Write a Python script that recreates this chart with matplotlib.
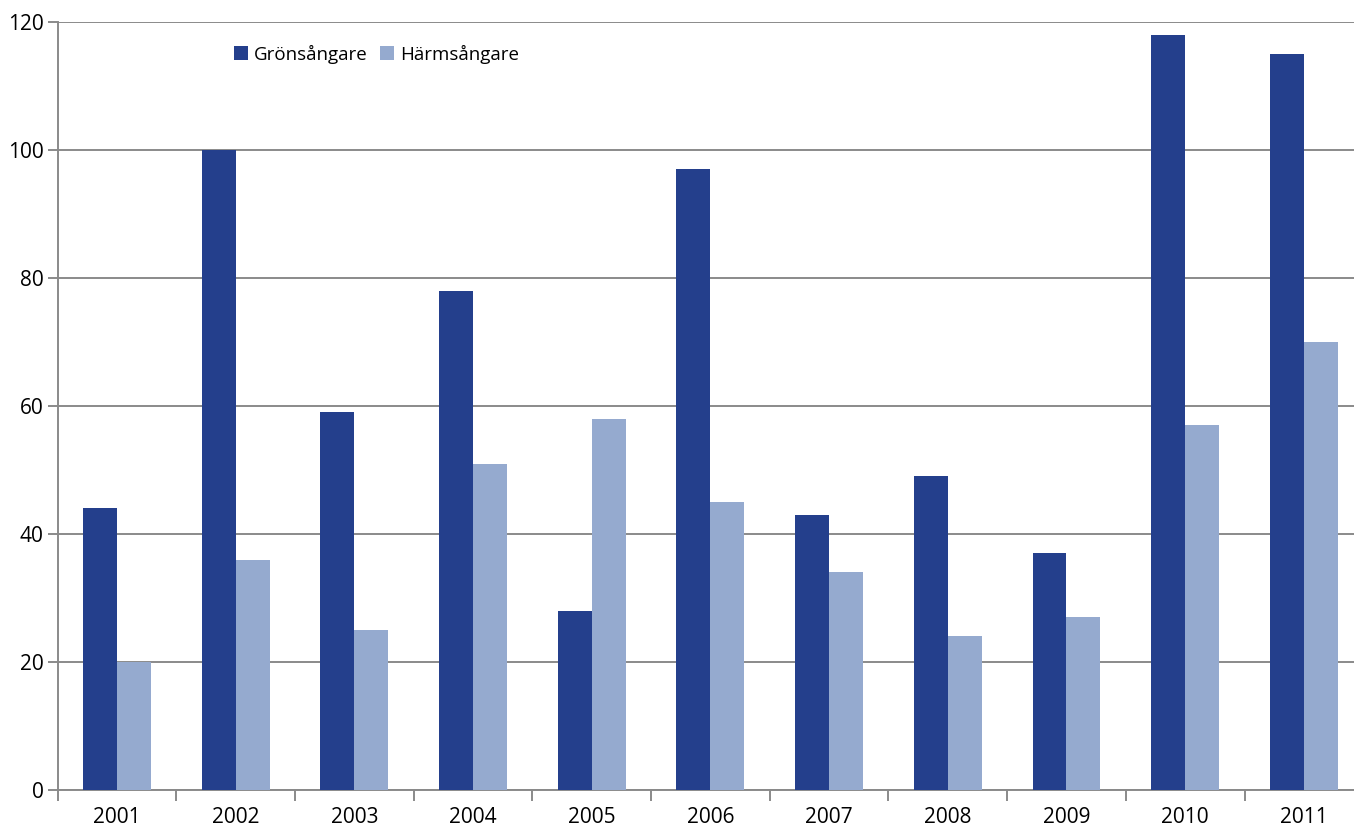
import matplotlib.pyplot as plt
import numpy as np

FONT_SIZE = 15

years = ["2001", "2002", "2003", "2004", "2005", "2006", "2007", "2008", "2009", "2010", "2011"]
gronsangare = [44, 100, 59, 78, 28, 97, 43, 49, 37, 118, 115]
harmsangare = [20, 36, 25, 51, 58, 45, 34, 24, 27, 57, 70]

plt.rcParams["font.family"] = ["Open Sans", "DejaVu Sans"]

fig = plt.figure(figsize=(13.54, 8.25), dpi=100)
ax = fig.add_axes([0.0425, 0.0424, 0.9643, 0.9309])

x = np.arange(len(years))
bar_width = 0.286
ax.bar(x - bar_width / 2, gronsangare, width=bar_width, color="#243F8C", label="Grönsångare", zorder=3)
ax.bar(x + bar_width / 2, harmsangare, width=bar_width, color="#95AACF", label="Härmsångare", zorder=3)

ax.set_xlim(-0.5, len(years) - 0.5)
ax.set_ylim(0, 120)
ax.set_yticks(np.arange(0, 121, 20))
ax.yaxis.grid(True, color="#8a8a8a", linewidth=1.4, zorder=0)

# year labels at centres, tick marks at category boundaries
ax.set_xticks(x)
ax.set_xticklabels(years, fontsize=FONT_SIZE)
ax.tick_params(axis="x", which="major", length=0, pad=12)
ax.set_xticks(np.arange(-0.5, len(years), 1), minor=True)
ax.tick_params(axis="x", which="minor", length=8, width=1.4, color="#8a8a8a")
ax.tick_params(axis="y", length=7, width=1.4, color="#8a8a8a", labelsize=FONT_SIZE, pad=3)

for side in ["top", "right"]:
    ax.spines[side].set_visible(False)
for side in ["left", "bottom"]:
    ax.spines[side].set_color("#8a8a8a")
    ax.spines[side].set_linewidth(1.4)

ax.legend(
    loc="center left",
    bbox_to_anchor=(0.122, 0.958),
    ncol=2,
    frameon=False,
    fontsize=FONT_SIZE - 1.5,
    handlelength=0.75,
    handleheight=0.75,
    handletextpad=0.3,
    columnspacing=0.7,
)

fig.savefig("out.png", dpi=100)
